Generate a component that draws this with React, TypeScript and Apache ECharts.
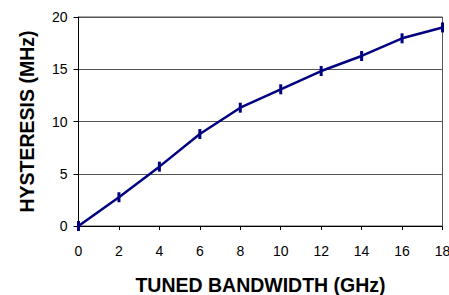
import React, { useEffect, useRef } from "react";
import * as echarts from "echarts";

const bandwidth = [0, 2, 4, 6, 8, 10, 12, 14, 16, 18];
const hysteresis = [0, 2.75, 5.68, 8.8, 11.32, 13.08, 14.83, 16.27, 17.96, 19.0];

export default function App() {
  const ref = useRef<HTMLDivElement>(null);
  useEffect(() => {
    if (!ref.current) return;
    const chart = echarts.init(ref.current, null, { renderer: "svg" });
    const font = "Arial, 'Liberation Sans', sans-serif";
    chart.setOption({
      animation: false,
      grid: {
        left: 78.5,
        right: 6.5,
        top: 17,
        bottom: 69,
        show: true,
        borderColor: "#555",
        borderWidth: 1,
        containLabel: false,
        outerBoundsMode: "none",
      },
      xAxis: {
        type: "value",
        min: 0,
        max: 18,
        interval: 2,
        name: "TUNED BANDWIDTH (GHz)",
        nameLocation: "middle",
        nameGap: 49,
        nameTextStyle: { fontFamily: font, fontSize: 19.5, fontWeight: "bold", color: "#000" },
        axisLine: { show: true, lineStyle: { color: "#000", width: 1 } },
        axisTick: { show: true, length: 4, lineStyle: { color: "#000" } },
        axisLabel: { fontFamily: font, fontSize: 14, color: "#000", margin: 18 },
        splitLine: { show: false },
      },
      yAxis: {
        type: "value",
        min: 0,
        max: 20,
        interval: 5,
        name: "HYSTERESIS (MHz)",
        nameLocation: "middle",
        nameGap: 42,
        nameTextStyle: { fontFamily: font, fontSize: 19.5, fontWeight: "bold", color: "#000" },
        axisLine: { show: true, lineStyle: { color: "#000", width: 1 } },
        axisTick: { show: true, length: 5, lineStyle: { color: "#000" } },
        axisLabel: { fontFamily: font, fontSize: 14, color: "#000", margin: 11 },
        splitLine: { show: true, lineStyle: { color: "#555", width: 1 } },
      },
      series: [
        {
          type: "line",
          data: bandwidth.map((x, i) => [x, hysteresis[i]]),
          lineStyle: { color: "#000080", width: 2.5 },
          itemStyle: { color: "#000080" },
          symbol: "rect",
          symbolSize: [3, 10],
          showSymbol: true,
        },
      ],
    });
    return () => chart.dispose();
  }, []);
  return <div ref={ref} style={{ width: 449, height: 295, position: "absolute", left: 0, top: 0 }} />;
}
